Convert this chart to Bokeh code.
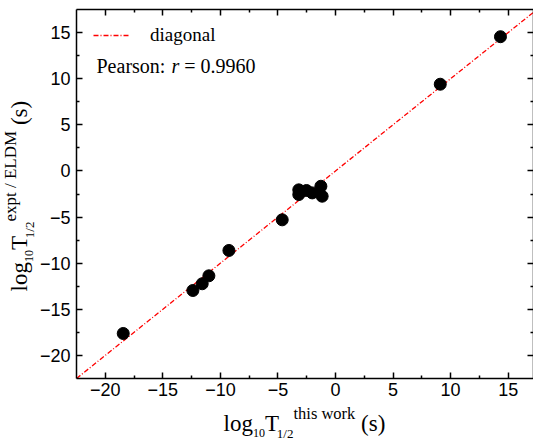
import math
from bokeh.plotting import figure
from bokeh.layouts import row, column
from bokeh.models import (LinearAxis, FixedTicker, Label, Legend, LegendItem,
                          Range1d, ColumnDataSource)
from bokeh.core.properties import value
from bokeh.embed import file_html
from bokeh.resources import INLINE

# ---------------- data ----------------
x_this_work = [14.33, 9.1, -3.19, -3.19, -2.52, -2.02, -1.27, -1.16, -4.63,
               -9.26, -11.0, -11.58, -12.39, -18.44]
y_expt_eldm = [14.55, 9.4, -2.05, -2.56, -2.12, -2.38, -1.66, -2.74, -5.3,
               -8.62, -11.37, -12.23, -12.96, -17.62]
diagonal = [-22.5, 17.5]
major_ticks = [-20, -15, -10, -5, 0, 5, 10, 15]
minor_ticks = [-17.5, -12.5, -7.5, -2.5, 2.5, 7.5, 12.5]
tick_labels = ["\u221220", "\u221215", "\u221210", "\u22125", "0", "5", "10", "15"]
pearson_r = "0.9960"

# ---------------- layout sizes ----------------
LW = 36                 # left strip (y title)
MW, MH = 533 - LW, 404  # main figure
BH = 444 - MH           # bottom strip (x title)
TOT_H = MH + BH
PAGE_FL, PAGE_FB, PAGE_FT = 74, 378, 9   # frame left / bottom / top (page px)
MID = 0.3375            # baseline -> middle-of-text offset (em)

p = figure(width=MW, height=MH, output_backend="svg", toolbar_location=None,
           x_range=Range1d(-22.5, 17.2), y_range=Range1d(-22.5, 17.5),
           min_border_left=PAGE_FL - LW, min_border_right=0,
           min_border_top=PAGE_FT, min_border_bottom=MH - PAGE_FB)
p.grid.visible = False
p.outline_line_color = None
p.background_fill_color = "white"
p.border_fill_color = "white"

p.add_layout(LinearAxis(), "above")
p.add_layout(LinearAxis(), "right")

overrides = {t: s for t, s in zip(major_ticks, tick_labels)}
blank = {t: "" for t in major_ticks}

for ax in p.axis:
    ax.ticker = FixedTicker(ticks=major_ticks, minor_ticks=minor_ticks)
    ax.axis_line_width = 1.5
    ax.axis_line_color = "black"
    ax.major_tick_in = 6
    ax.major_tick_out = 0
    ax.minor_tick_in = 3
    ax.minor_tick_out = 0
    ax.major_tick_line_width = 1.5
    ax.minor_tick_line_width = 1.5
    ax.major_tick_line_color = "black"
    ax.minor_tick_line_color = "black"
    ax.major_label_text_font = "Liberation Sans"
    ax.major_label_text_font_size = "18px"
    ax.major_label_text_color = "black"
    ax.major_label_standoff = 6
    ax.axis_label = None

for ax in p.below + p.left:
    if isinstance(ax, LinearAxis):
        ax.major_label_overrides = overrides
for ax in p.below:
    if isinstance(ax, LinearAxis):
        ax.major_label_standoff = 4
for ax in p.above + p.right:
    if isinstance(ax, LinearAxis):
        ax.major_label_overrides = blank
        ax.major_label_standoff = 0
        ax.major_label_text_font_size = "1px"

line_r = p.line(diagonal, diagonal, line_color="#ff0000", line_width=1.3,
                line_dash="5 2 1 2")
p.scatter(x_this_work, y_expt_eldm, size=12, fill_color="black",
          line_color="black")

legend = Legend(items=[LegendItem(label="diagonal", renderers=[line_r])],
                location=(17, 332))
legend.label_text_font = "Liberation Serif"
legend.label_text_font_size = "19px"
legend.label_text_color = "black"
legend.glyph_width = 36
legend.glyph_height = 12
legend.label_standoff = 21
legend.border_line_color = None
legend.background_fill_alpha = 0
legend.margin = 0
legend.padding = 3
legend.spacing = 0
p.add_layout(legend)

TW = {"l": .278, "o": .5, "g": .5, "T": .52, "/": .278, "t": .278, "h": .5,
      "i": .278, "s": .389, " ": .25, "\u00a0": .25, "w": .722, "r": .333,
      "k": .5, "e": .444, "x": .5, "p": .5, "E": .611, "L": .611, "D": .722,
      "M": .889, "(": .333, ")": .333, "0": .5, "1": .5, "2": .5,
      "P": .556, "a": .444, "n": .5, ":": .278, "=": .564, ".": .25,
      "9": .5, "6": .5}


def tw(s, size):
    return sum(TW.get(c, .5) for c in s) * size


def flab(text, px, base_y, size, style="normal"):
    py = base_y - MID * size
    p.add_layout(Label(x=px - PAGE_FL, y=PAGE_FB - py, x_units="screen",
                       y_units="screen", text=text,
                       text_font="Liberation Serif",
                       text_font_size=f"{size}px", text_font_style=style,
                       text_color="black", text_baseline="middle",
                       text_align="left"))


PS = 20
x0 = 94
flab("Pearson:", x0, 72, PS)
x1 = x0 + tw("Pearson:\u00a0", PS) + 1
flab("r", x1, 72, PS, style="italic")
x2 = x1 + .389 * PS
flab("\u00a0=\u00a0" + pearson_r, x2, 72, PS)


def strip(w, h, xr):
    f = figure(width=w, height=h, output_backend="svg", toolbar_location=None,
               x_range=Range1d(0, xr), y_range=Range1d(0, h),
               x_axis_location=None, y_axis_location=None,
               min_border=0, min_border_left=0, min_border_right=0,
               min_border_top=0, min_border_bottom=0)
    f.grid.visible = False
    f.outline_line_color = None
    f.background_fill_color = "white"
    f.border_fill_color = "white"
    return f


def title_pieces(sup, sup_size, sup_shift):
    return [("log", 23, 0), ("10", 12, -6), ("T", 23, 0), ("1/2", 13, -6),
            (sup, sup_size, sup_shift), ("\u00a0(s)", 23, 0)]


# x title: strip frame is aligned with the main frame (page x 74 .. ~531)
BXW = 457
bx = strip(MW, BH, BXW)
xs, ys, ts, ss = [], [], [], []
pos = 221
for txt, sz, shift in title_pieces("this work", 16.5, 12.5):
    base = 431 - shift
    mid = base - MID * sz
    xs.append(pos - PAGE_FL)
    ys.append(BH - (mid - MH))
    ts.append(txt)
    ss.append(f"{sz}px")
    pos += tw(txt, sz)
bx.text(x="x", y="y", text="text", text_font_size="size",
        source=ColumnDataSource(dict(x=xs, y=ys, text=ts, size=ss)),
        text_font=value("Liberation Serif"), text_color="black",
        text_baseline="middle", text_align="left")

# y title (rotated, reading upwards)
ly = strip(LW, TOT_H, LW)
xs, ys, ts, ss = [], [], [], []
pos = 291
for txt, sz, shift in title_pieces("expt / ELDM", 17, 11.5):
    base = 27 - shift
    mid = base - MID * sz
    xs.append(mid)
    ys.append(TOT_H - pos)
    ts.append(txt)
    ss.append(f"{sz}px")
    pos -= tw(txt, sz)
ly.text(x="x", y="y", text="text", text_font_size="size",
        source=ColumnDataSource(dict(x=xs, y=ys, text=ts, size=ss)),
        text_font=value("Liberation Serif"), text_color="black",
        text_baseline="middle", text_align="left", angle=math.pi / 2)

layout = row(ly, column(p, bx, spacing=0), spacing=0)

open("out.html", "w").write(file_html(layout, INLINE))
